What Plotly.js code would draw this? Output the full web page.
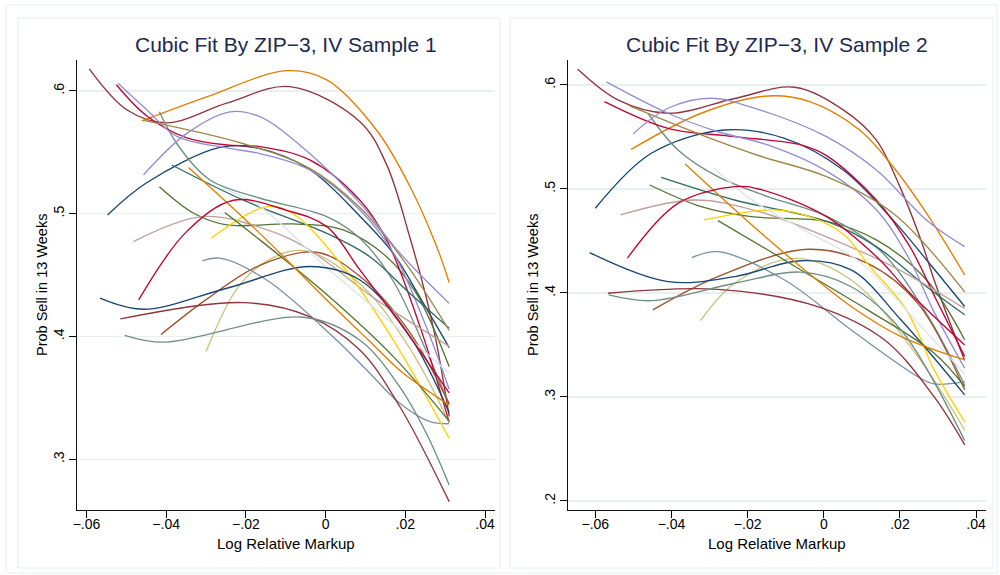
<!DOCTYPE html>
<html>
<head>
<meta charset="utf-8">
<script src="https://cdn.plot.ly/plotly-3.0.1.min.js"></script>
<style>html,body{margin:0;padding:0;background:#fff;}#chart{width:1000px;height:575px;}</style>
</head>
<body>
<div id="chart"></div>
<script>
// ---------- tick labels ----------
const xTickVals = [-0.06, -0.04, -0.02, 0, 0.02, 0.04];
const xTickText = ['\u2212.06', '\u2212.04', '\u2212.02', '0', '.02', '.04'];
const yTickVals1 = [0.3, 0.4, 0.5, 0.6];
const yTickText1 = ['.3', '.4', '.5', '.6'];
const yTickVals2 = [0.2, 0.3, 0.4, 0.5, 0.6];
const yTickText2 = ['.2', '.3', '.4', '.5', '.6'];
const panelTitles = ['Cubic Fit By ZIP\u22123, IV Sample 1', 'Cubic Fit By ZIP\u22123, IV Sample 2'];
const xTitle = 'Log Relative Markup';
const yTitle = 'Prob Sell in 13 Weeks';

// Stata s2color cycle
const seriesColors = ['#1a476f', '#90353b', '#55752f', '#e37e00', '#6e8e84', '#c10534', '#938dd2',
  '#cac27e', '#a0522d', '#7b92a8', '#2d6d66', '#9c8847', '#bfa19c', '#ffd200', '#d9e6eb',
  '#1a476f', '#90353b', '#55752f', '#e37e00', '#6e8e84', '#c10534', '#938dd2'];

// ---------- Panel 1: fitted curves [x, y] ----------
const p1_navy_1 = [[-0.0547,0.499],[-0.045,0.525],[-0.0265,0.554],[-0.0165,0.553],[-0.004,0.536],[0.0086,0.498],[0.0169,0.468],[0.024,0.43],[0.031,0.391]];
const p1_maroon_1 = [[-0.0593,0.618],[-0.0498,0.5845],[-0.0398,0.574],[-0.0248,0.590],[-0.009,0.6035],[0.0086,0.575],[0.0153,0.54],[0.0212,0.48],[0.025,0.435],[0.0278,0.395],[0.031,0.335]];
const p1_forest_1 = [[-0.0417,0.522],[-0.0331,0.5004],[-0.0248,0.4909],[-0.0081,0.4917],[0.0044,0.4868],[0.0153,0.465],[0.0228,0.435],[0.031,0.3755]];
const p1_orange_1 = [[-0.0461,0.5756],[-0.03,0.595],[-0.0097,0.6165],[0.0003,0.609],[0.0128,0.568],[0.0212,0.522],[0.0279,0.473],[0.031,0.444]];
const p1_teal_1 = [[-0.0417,0.583],[-0.0373,0.557],[-0.029,0.5275],[-0.0164,0.5126],[0.0003,0.4977],[0.0086,0.48],[0.017,0.445],[0.025,0.39],[0.031,0.345]];
const p1_crimson_1 = [[-0.0525,0.605],[-0.045,0.58],[-0.035,0.562],[-0.0248,0.556],[-0.0165,0.5547],[-0.004,0.5438],[0.0086,0.511],[0.0153,0.4787],[0.024,0.405],[0.031,0.33]];
const p1_lavender_1 = [[-0.052,0.606],[-0.045,0.585],[-0.0373,0.563],[-0.0248,0.5536],[-0.0165,0.549],[-0.004,0.5357],[0.0086,0.503],[0.017,0.468],[0.025,0.41],[0.031,0.357]];
const p1_khaki = [[-0.03,0.3877],[-0.022,0.44],[-0.0145,0.462],[-0.0055,0.47],[0.0086,0.443],[0.0212,0.39],[0.031,0.33]];
const p1_sienna = [[-0.0413,0.4016],[-0.03,0.43],[-0.0165,0.458],[-0.0022,0.4686],[0.0086,0.449],[0.0212,0.403],[0.031,0.345]];
const p1_emidblue = [[-0.0309,0.4616],[-0.0265,0.4638],[-0.0148,0.446],[0.0018,0.40],[0.0103,0.3728],[0.0186,0.3457],[0.0262,0.3307],[0.031,0.329]];
const p1_emerald = [[-0.0386,0.5397],[-0.0206,0.511],[0.0003,0.484],[0.0111,0.465],[0.0212,0.435],[0.031,0.4068]];
const p1_brown = [[-0.0457,0.576],[-0.0206,0.557],[-0.004,0.537],[0.0086,0.505],[0.02,0.46],[0.031,0.405]];
const p1_erose = [[-0.0482,0.4773],[-0.0306,0.4977],[-0.0122,0.484],[-0.004,0.4705],[0.0128,0.4298],[0.031,0.392]];
const p1_gold = [[-0.0287,0.48],[-0.0147,0.5058],[-0.0082,0.50],[0.0044,0.457],[0.017,0.397],[0.031,0.317]];
const p1_bluishgray = [[-0.026,0.5208],[-0.0165,0.506],[0,0.457],[0.017,0.41],[0.031,0.37]];
const p1_navy_2 = [[-0.0566,0.4312],[-0.0457,0.4222],[-0.0248,0.4393],[-0.0039,0.457],[0.0086,0.446],[0.0212,0.400],[0.031,0.338]];
const p1_maroon_2 = [[-0.0515,0.4143],[-0.0206,0.4276],[-0.004,0.4162],[0.0086,0.389],[0.0186,0.343],[0.031,0.2655]];
const p1_forest_2 = [[-0.0253,0.501],[-0.0165,0.4787],[0,0.435],[0.017,0.3836],[0.031,0.331]];
const p1_orange_2 = [[-0.0344,0.5376],[-0.0165,0.484],[0.0003,0.4298],[0.0111,0.396],[0.0195,0.37],[0.0278,0.351],[0.031,0.344]];
const p1_teal_2 = [[-0.0504,0.401],[-0.0407,0.3954],[-0.0055,0.4157],[0.0086,0.397],[0.0186,0.359],[0.0253,0.321],[0.031,0.279]];
const p1_crimson_2 = [[-0.0469,0.4298],[-0.035,0.485],[-0.0231,0.511],[-0.01,0.503],[0.0003,0.4895],[0.0086,0.4542],[0.02,0.405],[0.031,0.354]];
const p1_lavender_2 = [[-0.0457,0.5316],[-0.035,0.565],[-0.024,0.583],[-0.0165,0.579],[-0.004,0.549],[0.0086,0.5086],[0.0186,0.468],[0.031,0.427]];

// ---------- Panel 2 ----------
const p2_navy_1 = [[-0.06,0.4814],[-0.0453,0.5343],[-0.0261,0.5567],[-0.0103,0.5487],[0.0051,0.5183],[0.0182,0.47],[0.027,0.4317],[0.037,0.387]];
const p2_maroon_1 = [[-0.0646,0.615],[-0.0541,0.5856],[-0.0409,0.5728],[-0.0234,0.587],[-0.0077,0.5978],[0.0051,0.576],[0.0138,0.547],[0.02,0.502],[0.0252,0.454],[0.0296,0.406],[0.037,0.335]];
const p2_forest_1 = [[-0.0457,0.5038],[-0.0322,0.483],[-0.0191,0.4734],[0.001,0.4686],[0.0138,0.451],[0.027,0.4125],[0.037,0.355]];
const p2_orange_1 = [[-0.0506,0.538],[-0.0322,0.5728],[-0.0147,0.5894],[-0.0037,0.584],[0.0094,0.5567],[0.0182,0.5214],[0.027,0.4766],[0.037,0.4173]];
const p2_teal_1 = [[-0.0462,0.5728],[-0.0383,0.5375],[-0.0278,0.5118],[-0.0147,0.4926],[0.001,0.4734],[0.015,0.44],[0.027,0.38],[0.037,0.3115]];
const p2_crimson_1 = [[-0.0576,0.584],[-0.0409,0.5583],[-0.0234,0.5503],[-0.006,0.5423],[0.0007,0.532],[0.0138,0.4894],[0.0226,0.4445],[0.0296,0.393],[0.037,0.339]];
const p2_lavender_1 = [[-0.0571,0.603],[-0.0409,0.5728],[-0.0278,0.555],[-0.0147,0.5423],[0.001,0.5166],[0.0138,0.48],[0.0226,0.4317],[0.0287,0.3837],[0.037,0.3276]];
const p2_khaki = [[-0.0324,0.3734],[-0.0234,0.4093],[-0.0077,0.4333],[0.0072,0.4125],[0.0247,0.3388],[0.037,0.268]];
const p2_sienna = [[-0.0449,0.3837],[-0.0278,0.4157],[-0.0042,0.442],[0.0115,0.4285],[0.0247,0.39],[0.037,0.3067]];
const p2_emidblue = [[-0.0346,0.434],[-0.0278,0.4397],[-0.0103,0.4125],[0.0072,0.3644],[0.0247,0.3195],[0.029,0.3125],[0.037,0.3147]];
const p2_emerald = [[-0.0427,0.5112],[-0.0234,0.4894],[0.001,0.4686],[0.0138,0.4445],[0.027,0.406],[0.037,0.379]];
const p2_brown = [[-0.051,0.5798],[-0.0322,0.552],[-0.0168,0.5317],[0.0007,0.5118],[0.0182,0.4766],[0.037,0.401]];
const p2_erose = [[-0.0534,0.475],[-0.0339,0.4894],[-0.0168,0.478],[0.0007,0.454],[0.0182,0.4253],[0.037,0.385]];
const p2_gold = [[-0.0315,0.4702],[-0.0147,0.4798],[-0.006,0.476],[0.005,0.457],[0.0121,0.4253],[0.0217,0.3837],[0.029,0.326],[0.037,0.276]];
const p2_bluishgray = [[-0.0287,0.52],[-0.0191,0.49],[-0.005,0.46],[0.0094,0.43],[0.025,0.37],[0.037,0.322]];
const p2_navy_2 = [[-0.0615,0.4388],[-0.0409,0.4109],[-0.0234,0.4157],[-0.006,0.431],[0.0072,0.4221],[0.0203,0.374],[0.037,0.302]];
const p2_maroon_2 = [[-0.0567,0.3997],[-0.0278,0.4035],[-0.0016,0.3869],[0.0159,0.355],[0.029,0.30],[0.037,0.254]];
const p2_forest_2 = [[-0.0278,0.4695],[-0.0147,0.4413],[-0.006,0.4221],[0.0115,0.3837],[0.029,0.342],[0.037,0.31]];
const p2_orange_2 = [[-0.0364,0.524],[-0.0191,0.466],[-0.006,0.425],[0.0072,0.387],[0.0203,0.358],[0.037,0.3356]];
const p2_teal_2 = [[-0.0565,0.3981],[-0.0453,0.3926],[-0.0234,0.4093],[-0.006,0.42],[0.0072,0.406],[0.0203,0.3644],[0.037,0.258]];
const p2_crimson_2 = [[-0.0516,0.4334],[-0.0383,0.4862],[-0.0234,0.5022],[-0.0168,0.4997],[0.0007,0.4734],[0.0138,0.435],[0.0226,0.40],[0.037,0.35]];
const p2_lavender_2 = [[-0.0501,0.5529],[-0.0409,0.5776],[-0.0296,0.5872],[-0.0168,0.576],[0.0007,0.5503],[0.0138,0.5183],[0.027,0.47],[0.037,0.4445]];

const panel1Series = [p1_navy_1, p1_maroon_1, p1_forest_1, p1_orange_1, p1_teal_1, p1_crimson_1, p1_lavender_1,
  p1_khaki, p1_sienna, p1_emidblue, p1_emerald, p1_brown, p1_erose, p1_gold, p1_bluishgray,
  p1_navy_2, p1_maroon_2, p1_forest_2, p1_orange_2, p1_teal_2, p1_crimson_2, p1_lavender_2];
const panel2Series = [p2_navy_1, p2_maroon_1, p2_forest_1, p2_orange_1, p2_teal_1, p2_crimson_1, p2_lavender_1,
  p2_khaki, p2_sienna, p2_emidblue, p2_emerald, p2_brown, p2_erose, p2_gold, p2_bluishgray,
  p2_navy_2, p2_maroon_2, p2_forest_2, p2_orange_2, p2_teal_2, p2_crimson_2, p2_lavender_2];

// ---------- build traces ----------
const W = 1000, H = 575;
const px = v => v / W;
const py = v => 1 - v / H;
const traces = [];
function addPanel(series, xa, ya) {
  series.forEach((pts, i) => {
    traces.push({
      type: 'scatter', mode: 'lines',
      x: pts.map(p => p[0]), y: pts.map(p => p[1]),
      xaxis: xa, yaxis: ya,
      line: {color: seriesColors[i], width: 1.35, shape: 'spline', smoothing: 1},
      hoverinfo: 'skip'
    });
  });
}
addPanel(panel1Series, 'x', 'y');
addPanel(panel2Series, 'x2', 'y2');

const font = 'Liberation Sans, Arial, Helvetica, sans-serif';
const baseX = {
  tickmode: 'array', tickvals: xTickVals, ticktext: xTickText,
  ticks: 'outside', ticklen: 7, tickwidth: 1, tickcolor: '#000',
  ticklabelstandoff: -6,
  showline: true, linecolor: '#111', linewidth: 1.2,
  showgrid: false, zeroline: false,
  tickfont: {family: font, size: 14, color: '#000'}, fixedrange: true
};
const baseY = {
  tickmode: 'array', ticks: 'outside', ticklen: 7, tickwidth: 1, tickcolor: '#000',
  showline: true, linecolor: '#111', linewidth: 1.2,
  showgrid: true, gridcolor: '#e8eff1', gridwidth: 1.5, zeroline: false, tickangle: -90,
  tickfont: {family: font, size: 14, color: '#000'}, fixedrange: true
};
const yDom = [py(510), py(60)];

const layout = {
  width: W, height: H,
  margin: {l: 0, r: 0, t: 0, b: 0},
  paper_bgcolor: '#fff', plot_bgcolor: '#fff',
  showlegend: false,
  font: {family: font},
  xaxis: Object.assign({}, baseX, {domain: [px(77.3), px(495)], range: [-0.0623, 0.0425], anchor: 'y'}),
  yaxis: Object.assign({}, baseY, {domain: yDom, range: [0.2587, 0.6252], tickvals: yTickVals1, ticktext: yTickText1, anchor: 'x'}),
  xaxis2: Object.assign({}, baseX, {domain: [px(568.3), px(986)], range: [-0.0671, 0.0426], anchor: 'y2'}),
  yaxis2: Object.assign({}, baseY, {domain: yDom, range: [0.1913, 0.624], tickvals: yTickVals2, ticktext: yTickText2, anchor: 'x2'}),
  shapes: [
    {type: 'rect', xref: 'paper', yref: 'paper', x0: px(6), x1: px(997), y0: py(573), y1: py(5), line: {color: '#e6edf0', width: 1}, layer: 'below'},
    {type: 'rect', xref: 'paper', yref: 'paper', x0: px(18), x1: px(500), y0: py(568), y1: py(18), line: {color: '#e6edf0', width: 1}, layer: 'below'},
    {type: 'rect', xref: 'paper', yref: 'paper', x0: px(510), x1: px(993), y0: py(568), y1: py(18), line: {color: '#e6edf0', width: 1}, layer: 'below'}
  ],
  annotations: [
    {text: panelTitles[0], xref: 'paper', yref: 'paper', x: px(286), y: py(44), xanchor: 'center', yanchor: 'middle', showarrow: false, font: {family: font, size: 21, color: '#1c2a50'}},
    {text: panelTitles[1], xref: 'paper', yref: 'paper', x: px(777), y: py(44), xanchor: 'center', yanchor: 'middle', showarrow: false, font: {family: font, size: 21, color: '#1c2a50'}},
    {text: xTitle, xref: 'paper', yref: 'paper', x: px(286), y: py(543), xanchor: 'center', yanchor: 'middle', showarrow: false, font: {family: font, size: 15, color: '#000'}},
    {text: xTitle, xref: 'paper', yref: 'paper', x: px(777), y: py(543), xanchor: 'center', yanchor: 'middle', showarrow: false, font: {family: font, size: 15, color: '#000'}},
    {text: yTitle, xref: 'paper', yref: 'paper', x: px(42), y: py(285), xanchor: 'center', yanchor: 'middle', textangle: -90, showarrow: false, font: {family: font, size: 14.5, color: '#000'}},
    {text: yTitle, xref: 'paper', yref: 'paper', x: px(533), y: py(285), xanchor: 'center', yanchor: 'middle', textangle: -90, showarrow: false, font: {family: font, size: 14.5, color: '#000'}}
  ]
};

Plotly.newPlot('chart', traces, layout, {displayModeBar: false, staticPlot: true});
</script>
</body>
</html>
